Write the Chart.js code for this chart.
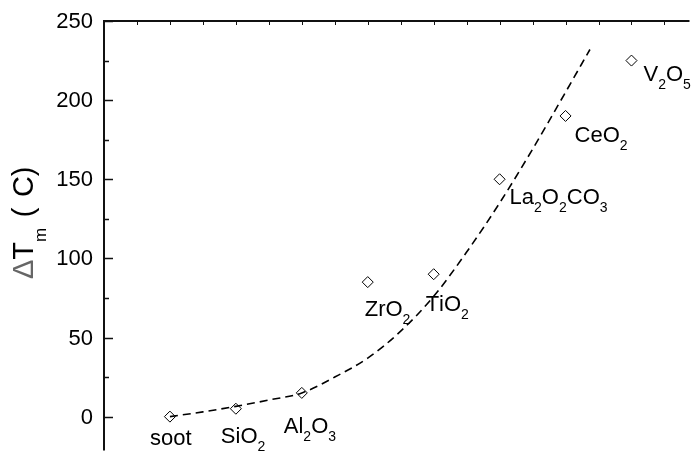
<!DOCTYPE html>
<html>
<head>
<meta charset="utf-8">
<script src="https://cdn.jsdelivr.net/npm/chart.js@4/dist/chart.umd.min.js"></script>
<style>
html,body{margin:0;padding:0;background:#fff;}
canvas{display:block;}
</style>
</head>
<body>
<canvas id="c" width="696" height="457"></canvas>
<script>
// ---- data ----
const categories = ['soot', 'SiO_2', 'Al_2O_3', 'ZrO_2', 'TiO_2', 'La_2O_2CO_3', 'CeO_2', 'V_2O_5'];
const categoryIndex = [1, 2, 3, 4, 5, 6, 7, 8];
const deltaTm = [0, 5, 15, 85, 90, 150, 190, 225];
const fitX = [1, 1.5, 2, 2.5, 3, 3.5, 4, 4.5, 5, 5.5, 6, 6.5, 7, 7.37];
const fitY = [0, 3, 6.5, 10.5, 15, 25, 37, 54, 76, 104, 135, 169, 205, 232];
const yMajorTicks = [0, 50, 100, 150, 200, 250];
const yMinorTicks = [25, 75, 125, 175, 225];
const xTopTicks = [0.5, 1, 1.5, 2, 2.5, 3, 3.5, 4, 4.5, 5, 5.5, 6, 6.5, 7, 7.5, 8, 8.5];
const yTitle = 'ΔT_m ( C)';

// ---- styling (label offsets in px relative to marker) ----
const labelOffsets = [[-20, 28], [-15, 34], [-18, 40], [-3, 34], [-8, 37], [10, 25], [9, 26], [12, 20]];
const FONT = '"Liberation Sans", Arial, Helvetica, sans-serif';

function drawRich(ctx, str, x, y, size, subSize, subDy) {
  // '_' followed by one char => subscript
  let cx = x;
  for (let i = 0; i < str.length; i++) {
    let ch = str[i];
    if (ch === '_' && i + 1 < str.length) {
      const s = str[i + 1];
      ctx.font = subSize + 'px ' + FONT;
      ctx.fillText(s, cx, y + subDy);
      cx += ctx.measureText(s).width;
      i++;
    } else {
      ctx.font = size + 'px ' + FONT;
      ctx.fillText(ch, cx, y);
      cx += ctx.measureText(ch).width;
    }
  }
  return cx - x;
}

const decorPlugin = {
  id: 'decor',
  afterDatasetsDraw(chart) {
    const ctx = chart.ctx;
    const xs = chart.scales.x, ys = chart.scales.y;
    const area = chart.chartArea;
    ctx.save();
    ctx.fillStyle = '#000';
    ctx.textBaseline = 'alphabetic';
    ctx.textAlign = 'left';
    // point labels
    categories.forEach((name, i) => {
      const px = xs.getPixelForValue(categoryIndex[i]);
      const py = ys.getPixelForValue(deltaTm[i]);
      const off = labelOffsets[i];
      drawRich(ctx, name, px + off[0], py + off[1], 22, 14, 8);
    });
    // axes lines
    ctx.strokeStyle = '#111';
    ctx.lineWidth = 2;
    ctx.beginPath();
    ctx.moveTo(area.left, area.bottom);
    ctx.lineTo(area.left, area.top);
    ctx.lineTo(area.right, area.top);
    ctx.stroke();
    // y ticks (inward)
    ctx.lineWidth = 1.5;
    ctx.beginPath();
    yMajorTicks.forEach(v => {
      const y = Math.round(ys.getPixelForValue(v)) + 0.5;
      ctx.moveTo(area.left, y); ctx.lineTo(area.left + 9, y);
    });
    yMinorTicks.forEach(v => {
      const y = Math.round(ys.getPixelForValue(v)) + 0.5;
      ctx.moveTo(area.left, y); ctx.lineTo(area.left + 5, y);
    });
    ctx.stroke();
    // top ticks (inward)
    ctx.lineWidth = 1;
    ctx.beginPath();
    xTopTicks.forEach(v => {
      const x = Math.round(xs.getPixelForValue(v)) + 0.5;
      ctx.moveTo(x, area.top); ctx.lineTo(x, area.top + 4);
    });
    ctx.stroke();
    // y tick labels
    ctx.font = '22px ' + FONT;
    ctx.textAlign = 'right';
    ctx.textBaseline = 'middle';
    yMajorTicks.forEach(v => {
      ctx.fillText(String(v), area.left - 11, ys.getPixelForValue(v) + 1);
    });
    // y title (rotated, reading bottom-to-top)
    ctx.textAlign = 'left';
    ctx.textBaseline = 'alphabetic';
    ctx.translate(33, 279);
    ctx.rotate(-Math.PI / 2);
    let cx = 0;
    for (let i = 0; i < yTitle.length; i++) {
      const ch = yTitle[i];
      if (ch === '_') {
        ctx.font = '17px ' + FONT; ctx.fillStyle = '#000';
        ctx.fillText(yTitle[i + 1], cx, 13);
        cx += ctx.measureText(yTitle[i + 1]).width; i++;
      } else if (ch === ' ') {
        cx += 10.5;
      } else {
        ctx.font = '29px ' + FONT;
        ctx.fillStyle = ch === 'Δ' ? '#666' : '#000';
        ctx.fillText(ch, cx, 0);
        cx += ctx.measureText(ch).width;
      }
    }
    ctx.restore();
  }
};

new Chart(document.getElementById('c'), {
  type: 'scatter',
  data: {
    datasets: [
      {
        label: 'fit',
        data: fitX.map((x, i) => ({ x: x, y: fitY[i] })),
        showLine: true,
        borderColor: '#000',
        borderWidth: 1.6,
        borderDash: [8, 5],
        pointRadius: 0,
        cubicInterpolationMode: 'monotone',
        fill: false,
        order: 2
      },
      {
        label: 'ΔTm',
        data: categoryIndex.map((x, i) => ({ x: x, y: deltaTm[i] })),
        pointStyle: 'rectRot',
        pointRadius: 5.5,
        pointBorderWidth: 1,
        borderColor: '#000',
        backgroundColor: 'rgba(255,255,255,0)',
        showLine: false,
        order: 1
      }
    ]
  },
  options: {
    responsive: false,
    devicePixelRatio: 1,
    animation: false,
    layout: { padding: { left: 104, top: 21, right: 0, bottom: 0 } },
    plugins: { legend: { display: false }, tooltip: { enabled: false } },
    scales: {
      x: { type: 'linear', min: 0, max: 8.88, display: false },
      y: { type: 'linear', min: -21.4, max: 250, display: false }
    }
  },
  plugins: [decorPlugin]
});
</script>
</body>
</html>
